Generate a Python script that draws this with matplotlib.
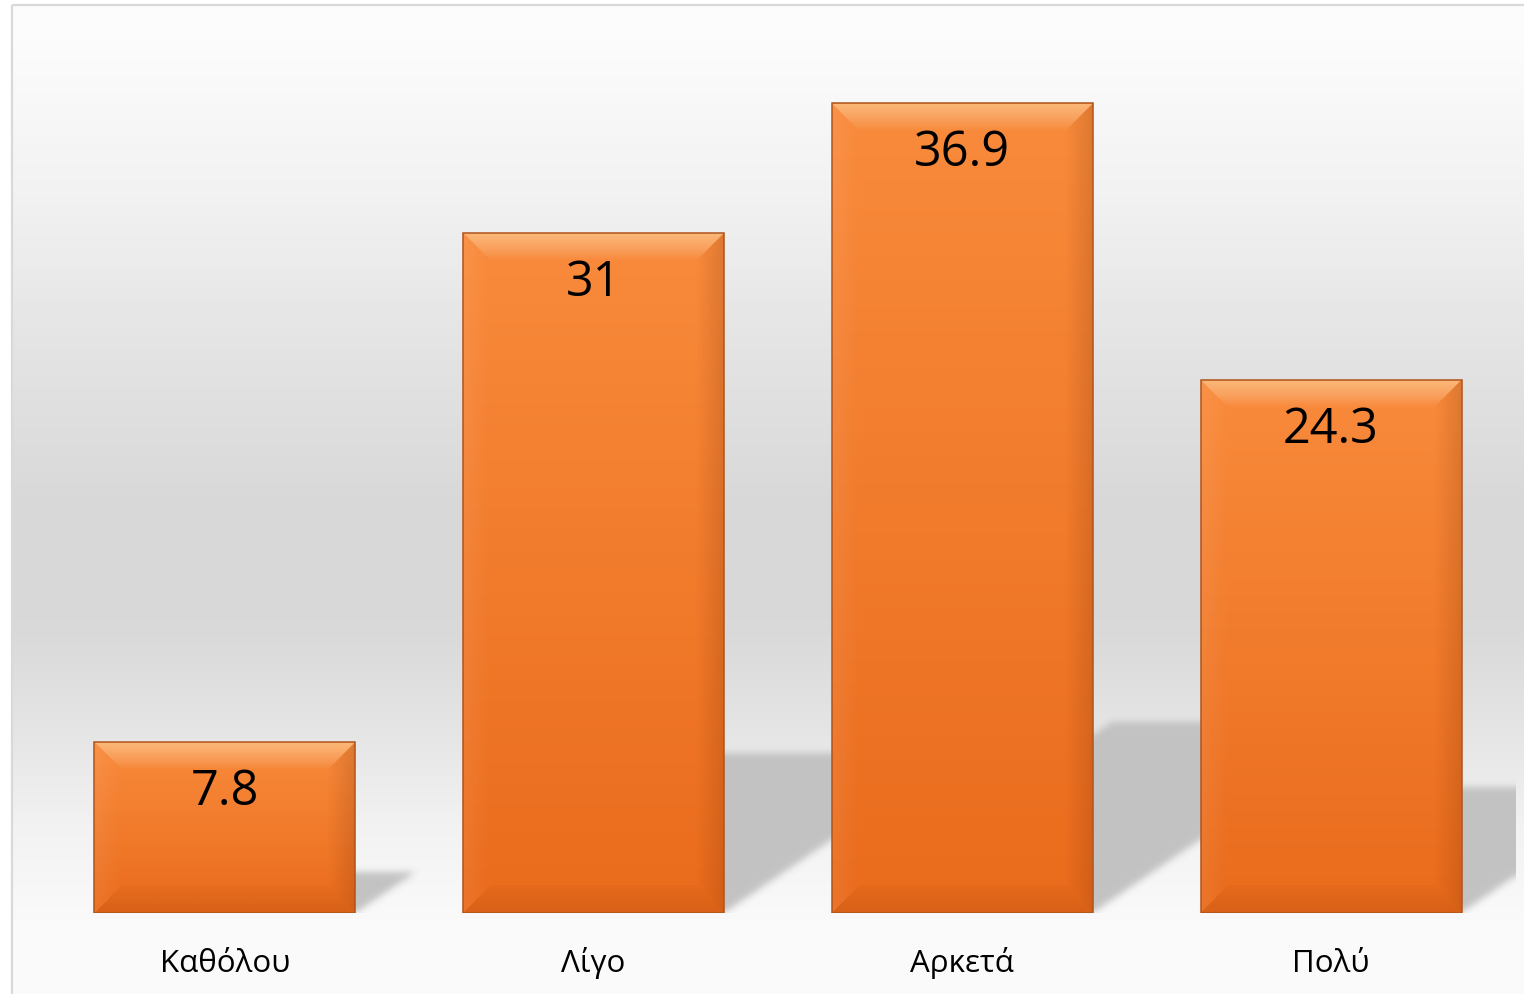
import numpy as np
import matplotlib
matplotlib.use("Agg")
import matplotlib.pyplot as plt
from matplotlib.patches import Polygon
from matplotlib.path import Path

plt.rcParams['font.family'] = ['Open Sans', 'DejaVu Sans']

# ---- data ----
categories = ["Καθόλου", "Λίγο", "Αρκετά", "Πολύ"]
values = [7.8, 31, 36.9, 24.3]
value_labels = ["7.8", "31", "36.9", "24.3"]

# ---- figure / layout ----
W, H = 1524, 994
fig = plt.figure(figsize=(W / 100, H / 100), dpi=100)

# background panel with vertical gradient and frame
bg = fig.add_axes([0, 0, 1, 1])
bg.set_xlim(0, W)
bg.set_ylim(H, 0)
bg.axis('off')
stops_y = [0, 40, 190, 317, 507, 600, 634, 729, 824, 919, 994]
stops_v = [253, 252, 242, 230, 216, 216, 218, 229, 242, 250, 251]
ys = np.arange(H)
g = np.interp(ys, stops_y, stops_v) / 255.0
grad = np.dstack([g, g, g]).reshape(H, 1, 3).repeat(2, axis=1)
bg.imshow(grad, extent=(12, W, H, 5), origin='upper', aspect='auto',
          interpolation='nearest', zorder=0)
bg.plot([12, 12], [H, 5], color='#d9d9d9', lw=1.6, zorder=1,
        solid_capstyle='butt')
bg.plot([12, W], [5, 5], color='#d9d9d9', lw=1.6, zorder=1,
        solid_capstyle='butt')

# main axes
ppx = 368.67   # pixels per category
ppy = 21.94    # pixels per value unit
ax_left, ax_right = 225 - ppx / 2, 1331 + ppx / 2
base_px = 913
ymax = 40
ax_h = ymax * ppy
ax = fig.add_axes([ax_left / W, (H - base_px) / H,
                   (ax_right - ax_left) / W, ax_h / H])
ax.patch.set_alpha(0)
for s in ax.spines.values():
    s.set_visible(False)

x = np.arange(len(categories))
bar_w = 261 / ppx
bars = ax.bar(x, values, width=bar_w, facecolor='none',
              edgecolor='#b0541c', linewidth=1.1, zorder=6)

# ---- shadows (perspective cast shadows, blurred) ----
nx, ny = int(round(ax_right - ax_left)), int(round(ax_h))
gx = np.linspace(-0.5, 3.5, nx)
gy = np.linspace(0, ymax, ny)
GX, GY = np.meshgrid(gx, gy)
pts = np.column_stack([GX.ravel(), GY.ravel()])
mask = np.zeros(GX.size, dtype=float)
for b in bars:
    x0 = b.get_x()
    x1 = x0 + b.get_width()
    h = b.get_height()
    sdy = 0.235 * h
    sdx = 0.345 * h * ppy / ppx
    poly = Path([(x0, 0), (x1, 0), (x1 + sdx, sdy), (x0 + sdx, sdy), (x0, 0)])
    mask = np.maximum(mask, poly.contains_points(pts).astype(float))
mask = mask.reshape(ny, nx)


def blur(a, sigma):
    r = int(3 * sigma)
    k = np.exp(-0.5 * (np.arange(-r, r + 1) / sigma) ** 2)
    k /= k.sum()
    p = np.pad(a, ((r, r), (r, r)), mode='edge')
    out = np.zeros_like(p)
    for i, kv in enumerate(k):
        out[:, r:-r] += kv * p[:, i:i + p.shape[1] - 2 * r]
    p2 = out[:, r:-r]
    out2 = np.zeros((a.shape[0], a.shape[1]))
    for i, kv in enumerate(k):
        out2 += kv * p2[i:i + a.shape[0], :]
    return out2


mask = blur(mask, 3.5)
mask[mask < 0.01] = 0
shadow = np.zeros((ny, nx, 4))
shadow[..., :3] = 0.755
shadow[..., 3] = mask * 0.95
ax.imshow(shadow, extent=(-0.5, 3.5, 0, ymax), origin='lower', aspect='auto',
          interpolation='nearest', zorder=2)


# ---- bar faces with bevel ----
def grad_img(c_a, c_b, n=128, alpha_a=1.0, alpha_b=1.0, horizontal=False):
    t = np.linspace(0, 1, n)
    c0 = np.array(matplotlib.colors.to_rgb(c_a))
    c1 = np.array(matplotlib.colors.to_rgb(c_b))
    rgb = c0[None, :] * (1 - t[:, None]) + c1[None, :] * t[:, None]
    a = alpha_a * (1 - t) + alpha_b * t
    img = np.concatenate([rgb, a[:, None]], axis=1)
    if horizontal:
        return img.reshape(1, n, 4)
    return img.reshape(n, 1, 4)


bx = 28 / ppx
by = 28 / ppy
for b in bars:
    x0 = b.get_x()
    x1 = x0 + b.get_width()
    h = b.get_height()
    # main face gradient
    im = ax.imshow(grad_img('#f98b3c', '#ea6b1c'), extent=(x0, x1, 0, h),
                   origin='upper', aspect='auto', interpolation='bilinear',
                   zorder=3)
    im.set_clip_path(b)
    # top bevel: light highlight fading downwards
    top = Polygon([(x0, h), (x1, h), (x1 - bx, h - by), (x0 + bx, h - by)],
                  closed=True, transform=ax.transData)
    im = ax.imshow(grad_img('#fff2c0', '#ffffff', alpha_a=0.45, alpha_b=0.0),
                   extent=(x0, x1, h - by, h), origin='upper', aspect='auto',
                   interpolation='bilinear', zorder=4)
    im.set_clip_path(top)
    # left bevel: barely lighter
    left = Polygon([(x0, 0), (x0, h), (x0 + bx, h - by), (x0 + bx, by)],
                   closed=True, transform=ax.transData)
    im = ax.imshow(grad_img('#ffffff', '#ffffff', alpha_a=0.07, alpha_b=0.0,
                            horizontal=True),
                   extent=(x0, x0 + bx, 0, h), origin='upper', aspect='auto',
                   interpolation='bilinear', zorder=4)
    im.set_clip_path(left)
    # right bevel: darker towards edge
    right = Polygon([(x1, 0), (x1, h), (x1 - bx, h - by), (x1 - bx, by)],
                    closed=True, transform=ax.transData)
    im = ax.imshow(grad_img('#5a2000', '#5a2000', alpha_a=0.0, alpha_b=0.17,
                            horizontal=True),
                   extent=(x1 - bx, x1, 0, h), origin='upper', aspect='auto',
                   interpolation='bilinear', zorder=4)
    im.set_clip_path(right)
    # bottom bevel: darker towards edge
    bot = Polygon([(x0, 0), (x1, 0), (x1 - bx, by), (x0 + bx, by)],
                  closed=True, transform=ax.transData)
    im = ax.imshow(grad_img('#6a2a00', '#6a2a00', alpha_a=0.03, alpha_b=0.15),
                   extent=(x0, x1, by, 0), origin='lower', aspect='auto',
                   interpolation='bilinear', zorder=4)
    im.set_clip_path(bot)

# value labels inside bars
for xi, v, lab in zip(x, values, value_labels):
    ax.annotate(lab, xy=(xi, v), xytext=(0, -63 * 0.72),
                textcoords='offset points', ha='center', va='baseline',
                fontsize=35, color='black', zorder=7)

# category labels
ax.set_xticks(x, categories)
ax.tick_params(axis='x', length=0, pad=59 * 0.72, labelsize=22.5,
               labelcolor='black')
for t in ax.get_xticklabels():
    t.set_va('baseline')
ax.set_yticks([])
ax.set_xlim(-0.5, 3.5)
ax.set_ylim(0, ymax)

fig.savefig('out.png', dpi=100)
